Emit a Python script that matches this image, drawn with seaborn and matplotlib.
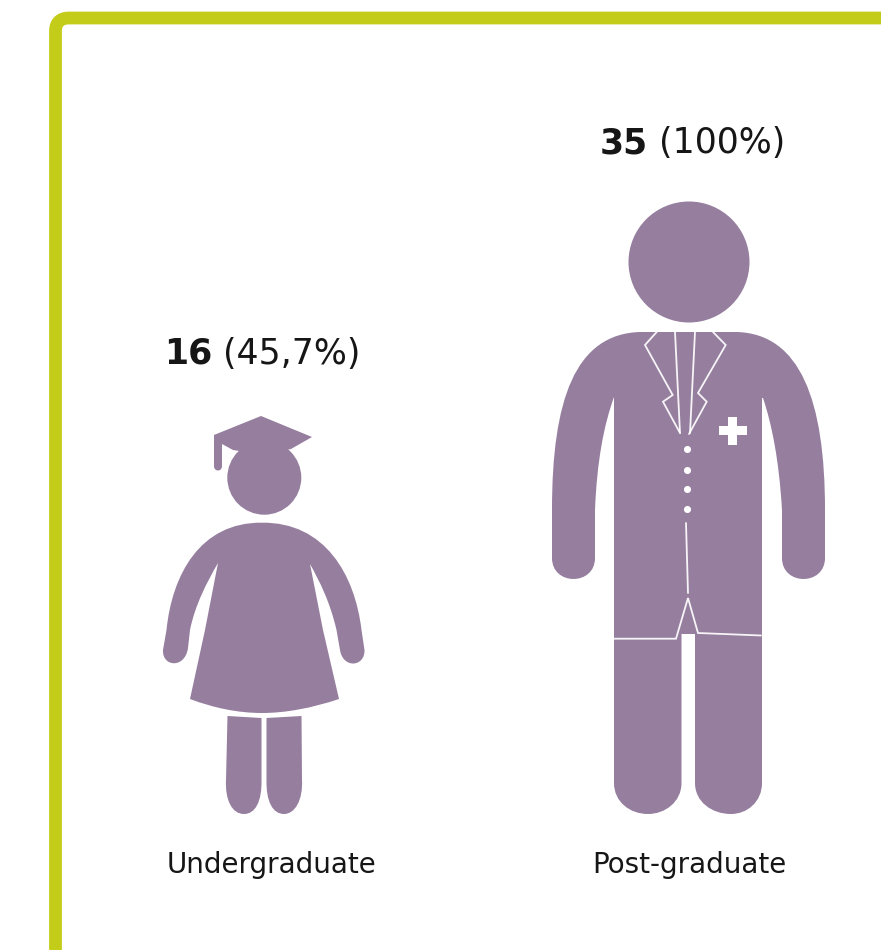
import numpy as np
import pandas as pd
import seaborn as sns
import matplotlib
matplotlib.use("Agg")
import matplotlib.pyplot as plt
from matplotlib.path import Path
from matplotlib.patches import PathPatch, Circle

# ---- data
categories = ["Undergraduate", "Post-graduate"]
counts = [16, 35]
shares = ["(45,7%)", "(100%)"]

# ---- style
PURPLE = "#967E9F"
LIME = "#C4CC1A"
INK = "#161616"
sns.set_theme(style="white")
plt.rcParams["font.family"] = ["DejaVu Sans"]

W, H = 881, 950
fig = plt.figure(figsize=(W / 100, H / 100), dpi=100, facecolor="white")
ax = fig.add_axes([0, 0, 1, 1])
ax.set_xlim(0, W)
ax.set_ylim(H, 0)
ax.axis("off")
sns.despine(ax=ax, left=True, bottom=True)


def build(cmds):
    """Tiny SVG-like path builder for the pictogram glyph outlines."""
    verts, codes = [], []
    for c in cmds:
        op, pts = c[0], c[1:]
        if op == "M":
            verts.append(pts); codes.append(Path.MOVETO)
        elif op == "L":
            verts.append(pts); codes.append(Path.LINETO)
        elif op == "C":
            verts += [pts[0:2], pts[2:4], pts[4:6]]
            codes += [Path.CURVE4] * 3
        elif op == "Z":
            verts.append((0, 0)); codes.append(Path.CLOSEPOLY)
    return Path(verts, codes)


# ---- frame (glyph decoration)
ax.add_patch(PathPatch(build([("M", 55.5, 960), ("L", 55.5, 31),
                              ("C", 55.5, 23, 60, 18, 69, 18), ("L", 890, 18)]),
                       fc="none", ec=LIME, lw=9.2, capstyle="butt", joinstyle="round"))

# ---- glyph outlines, drawn about the feet at the value they were designed for
GROUND = 815
girl = dict(
    design=16, cx=264, text_gap=52,
    shapes=[
        [("M", 262, 522.7), ("C", 325, 522, 355, 575, 361.5, 630), ("L", 364.5, 650),
         ("C", 365, 667, 343, 669, 340, 650), ("L", 336.5, 630),
         ("C", 330, 602, 320, 582, 310, 564), ("L", 323, 630), ("L", 339, 699),
         ("C", 312, 708, 286, 713, 262, 713), ("C", 238, 713, 214, 708, 190, 699),
         ("L", 205, 630), ("L", 218, 563), ("C", 207, 582, 195, 605, 190, 630),
         ("L", 188, 648), ("C", 185, 669, 162, 667, 163, 650), ("L", 166.5, 630),
         ("C", 172, 575, 200, 522, 262, 522.7), ("Z",)],
        [("M", 227.5, 716), ("L", 261.5, 718), ("L", 261.5, 780),
         ("C", 262, 802, 255, 814, 244, 814), ("C", 232, 814, 225, 800, 226, 780), ("Z",)],
        [("M", 266.5, 718), ("L", 301.5, 716), ("L", 302, 780),
         ("C", 303, 800, 295, 814, 284, 814), ("C", 273, 814, 266, 802, 266.5, 780), ("Z",)],
        [("M", 261, 416), ("L", 312, 437), ("L", 291, 449), ("L", 264, 455), ("L", 233, 450),
         ("L", 222, 444), ("L", 222, 466), ("C", 222, 472, 214, 472, 214, 466),
         ("L", 214, 435), ("Z",)],
    ],
    head=(264.3, 477.7, 37), lines=[], buttons=[], cross=None,
)
doctor = dict(
    design=35, cx=689, text_gap=48,
    shapes=[
        [("M", 640, 332), ("L", 737, 332), ("C", 800, 334, 825, 400, 825, 510),
         ("L", 825, 558), ("C", 825, 586, 782, 586, 782, 558),
         ("L", 782, 510), ("C", 779, 460, 772, 425, 763, 398), ("L", 762, 398),
         ("L", 762, 783), ("C", 762, 802, 747, 814, 731, 814), ("C", 712, 814, 695, 802, 695, 783),
         ("L", 695, 634), ("L", 681.5, 634), ("L", 681.5, 783),
         ("C", 681.5, 802, 665, 814, 648, 814), ("C", 630, 814, 614, 802, 614, 783),
         ("L", 614, 397), ("C", 604, 425, 597, 460, 595, 510), ("L", 595, 558),
         ("C", 595, 586, 552, 586, 552, 558), ("L", 552, 510),
         ("C", 552, 400, 575, 334, 640, 332), ("Z",)],
    ],
    head=(689, 262, 60.5),
    lines=[
        [(614, 638.7), (676, 638.7), (688, 598), (698, 633), (761, 635.5)],
        [(686, 523), (688, 593)],
        [(656.7, 332), (645, 345), (672.7, 395), (663, 401.7), (680, 433)],
        [(713, 332), (725.7, 345), (698, 393), (706.7, 401.7), (689, 434)],
        [(675, 332), (680, 433)],
        [(695, 332), (690, 433)],
    ],
    buttons=[(686.7, 449), (686.7, 470), (686.7, 489.3), (686.7, 509)],
    cross=(732.7, 430.7, 14, 4.5),
)
glyphs = [girl, doctor]
label_x = [271.5, 689.5]
label_y = [873, 873]
renderer = fig.canvas.get_renderer()

for cat, n, share, g, lx, ly in zip(categories, counts, shares, glyphs, label_x, label_y):
    k = float(np.sqrt(n / g["design"]))          # area proportional to the count
    cx = g["cx"]
    tf = lambda p: (cx + (p[0] - cx) * k, GROUND + (p[1] - GROUND) * k)

    tops = []
    for cmds in g["shapes"]:
        p = build(cmds)
        v = np.array([tf(q) for q in p.vertices])
        tops.append(v[:-1, 1].min())
        ax.add_patch(PathPatch(Path(v, p.codes), fc=PURPLE, ec="none"))
    hx, hy, hr = g["head"]
    cxy = tf((hx, hy))
    ax.add_patch(Circle(cxy, hr * k, fc=PURPLE, ec="none"))
    top = min(min(tops), cxy[1] - hr * k)

    for seg in g["lines"]:
        xy = np.array([tf(q) for q in seg])
        ax.plot(xy[:, 0], xy[:, 1], color="white", lw=1.3, solid_joinstyle="miter", alpha=.92)
    if g["buttons"]:
        b = pd.DataFrame([tf(q) for q in g["buttons"]], columns=["x", "y"])
        sns.scatterplot(data=b, x="x", y="y", ax=ax, color="white", s=26 * k,
                        linewidth=0, legend=False)
    if g["cross"]:
        ccx, ccy, a, t = g["cross"]
        pts = [(ccx - t, ccy - a), (ccx + t, ccy - a), (ccx + t, ccy - t), (ccx + a, ccy - t),
               (ccx + a, ccy + t), (ccx + t, ccy + t), (ccx + t, ccy + a), (ccx - t, ccy + a),
               (ccx - t, ccy + t), (ccx - a, ccy + t), (ccx - a, ccy - t), (ccx - t, ccy - t)]
        ax.fill(*zip(*[tf(q) for q in pts]), color="white", lw=0)

    # value label: bold count + regular share, centred over the figure
    base = top - g["text_gap"]
    t1 = ax.text(0, base, str(n), fontsize=25, fontweight="bold", color=INK, va="baseline", ha="left")
    t2 = ax.text(0, base, share, fontsize=25, color=INK, va="baseline", ha="left")
    w1 = t1.get_window_extent(renderer).width
    w2 = t2.get_window_extent(renderer).width
    gap = 11
    left = (lx + (-9 if cat == "Undergraduate" else 3)) - (w1 + gap + w2) / 2
    t1.set_x(left)
    t2.set_x(left + w1 + gap)

    ax.text(lx, ly, cat, fontsize=20, color=INK, ha="center", va="baseline")

fig.savefig("out.png", dpi=100, facecolor="white")
